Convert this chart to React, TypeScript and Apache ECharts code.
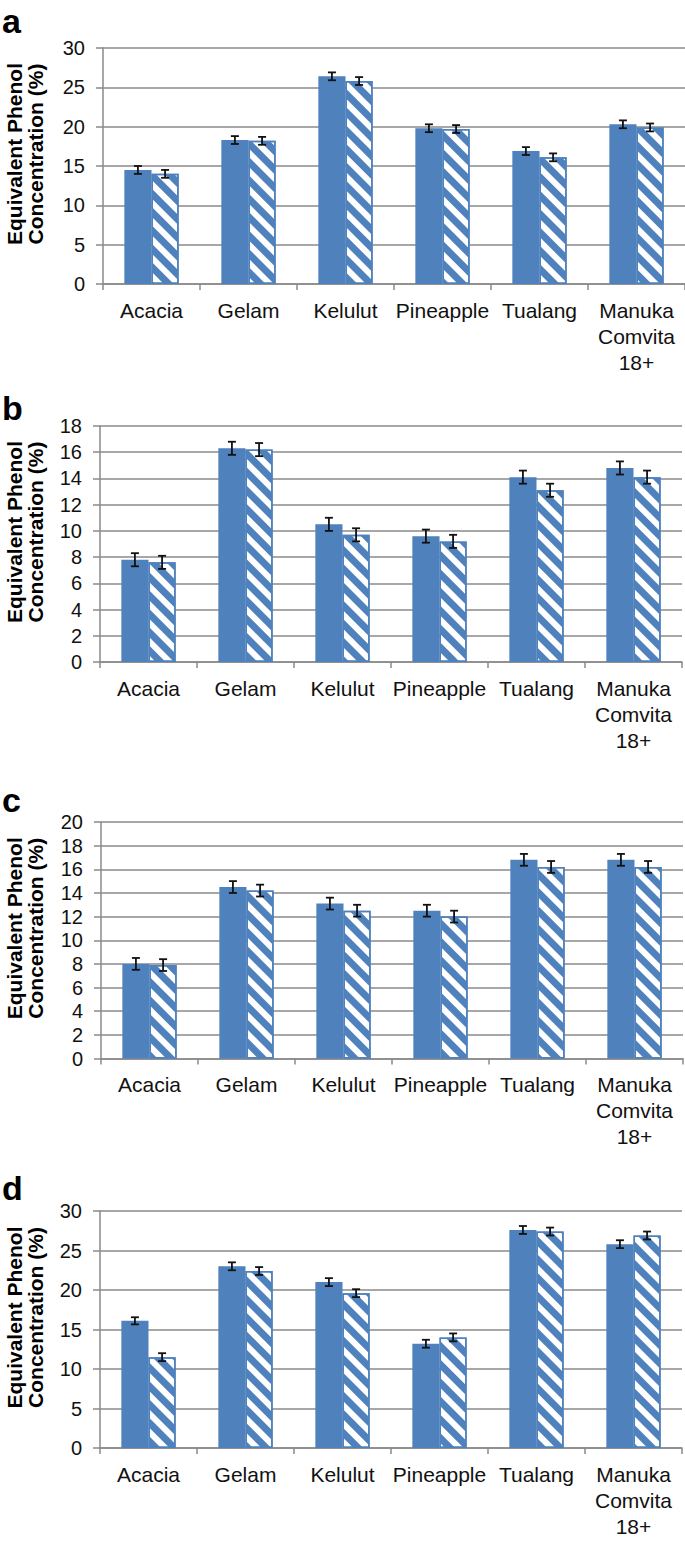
import React, { useEffect, useRef } from "react";
import * as echarts from "echarts";

// ---------- data ----------
const categories = ["Acacia", "Gelam", "Kelulut", "Pineapple", "Tualang", "Manuka\nComvita\n18+"];
const panelLetters = ["a", "b", "c", "d"];
const yMaxes = [30, 18, 20, 30];
const yIntervals = [5, 2, 2, 5];

const aSolid = [14.5, 18.3, 26.4, 19.8, 16.9, 20.3];
const aHatched = [14.0, 18.2, 25.8, 19.7, 16.1, 19.9];
const bSolid = [7.8, 16.3, 10.5, 9.6, 14.1, 14.8];
const bHatched = [7.6, 16.2, 9.7, 9.2, 13.1, 14.1];
const cSolid = [8.0, 14.5, 13.1, 12.5, 16.8, 16.8];
const cHatched = [7.9, 14.2, 12.5, 12.0, 16.2, 16.2];
const dSolid = [16.1, 23.0, 21.0, 13.2, 27.6, 25.8];
const dHatched = [11.5, 22.4, 19.6, 14.0, 27.4, 26.9];

const aSolidErr = [0.5, 0.5, 0.5, 0.5, 0.5, 0.5];
const aHatchedErr = [0.5, 0.5, 0.5, 0.5, 0.5, 0.5];
const bSolidErr = [0.5, 0.5, 0.5, 0.5, 0.5, 0.5];
const bHatchedErr = [0.5, 0.5, 0.5, 0.5, 0.5, 0.5];
const cSolidErr = [0.5, 0.5, 0.5, 0.5, 0.5, 0.5];
const cHatchedErr = [0.5, 0.5, 0.5, 0.5, 0.5, 0.5];
const dSolidErr = [0.45, 0.5, 0.5, 0.5, 0.5, 0.5];
const dHatchedErr = [0.5, 0.5, 0.5, 0.5, 0.5, 0.5];

const yTitle = "Equivalent Phenol\nConcentration (%)";

// ---------- layout / style ----------
const W = 685;
const H = 1541;
const gridLeft = [103, 100, 101, 100];
const gridTop = [48, 426, 822, 1211];
const gridHeight = [236, 236, 236.5, 237];
const gridWidth = 582;
const letterBaseline = [33, 420, 812, 1200];
const BLUE = "#4F81BD";
const GRID_GRAY = "#8a8a8a";
const FONT = "'Liberation Sans', Arial, Helvetica, sans-serif";

const solidData = [aSolid, bSolid, cSolid, dSolid];
const hatchedData = [aHatched, bHatched, cHatched, dHatched];
const solidErr = [aSolidErr, bSolidErr, cSolidErr, dSolidErr];
const hatchedErr = [aHatchedErr, bHatchedErr, cHatchedErr, dHatchedErr];

function errSeries(i: number, vals: number[], errs: number[], side: number) {
  return {
    type: "custom",
    xAxisIndex: i,
    yAxisIndex: i,
    z: 10,
    silent: true,
    encode: { x: 0, y: 1 },
    data: vals.map((v, k) => [k, v, errs[k]]),
    renderItem: (params: any, api: any) => {
      const idx = api.value(0);
      const v = api.value(1);
      const e = api.value(2);
      const cw = api.size([1, 0])[0];
      const top = api.coord([idx, v + e]);
      const bot = api.coord([idx, v - e]);
      const x = top[0] + side * cw * 0.14;
      const hw = 4;
      const st = { stroke: "#111", lineWidth: 1.8 };
      return {
        type: "group",
        children: [
          { type: "line", shape: { x1: x, y1: top[1], x2: x, y2: bot[1] }, style: st },
          { type: "line", shape: { x1: x - hw, y1: top[1], x2: x + hw, y2: top[1] }, style: st },
          { type: "line", shape: { x1: x - hw, y1: bot[1], x2: x + hw, y2: bot[1] }, style: st },
        ],
      };
    },
  };
}

function buildOption() {
  const grids: any[] = [];
  const xAxes: any[] = [];
  const yAxes: any[] = [];
  const series: any[] = [];
  const graphics: any[] = [];

  for (let i = 0; i < 4; i++) {
    grids.push({
      left: gridLeft[i],
      top: gridTop[i],
      width: gridWidth,
      height: gridHeight[i],
      containLabel: false,
      outerBoundsMode: "none",
    });
    xAxes.push({
      type: "category",
      gridIndex: i,
      data: categories,
      axisLine: { show: true, lineStyle: { color: GRID_GRAY, width: 1.5 } },
      axisTick: { show: true, length: 6, lineStyle: { color: GRID_GRAY, width: 1.5 } },
      axisLabel: {
        interval: 0,
        fontSize: 21,
        lineHeight: 26,
        color: "#111",
        fontFamily: FONT,
        margin: 13,
      },
      splitLine: { show: false },
    });
    yAxes.push({
      type: "value",
      gridIndex: i,
      min: 0,
      max: yMaxes[i],
      interval: yIntervals[i],
      axisLine: { show: true, lineStyle: { color: GRID_GRAY, width: 1.5 } },
      axisTick: { show: true, length: 7, lineStyle: { color: GRID_GRAY, width: 1.5 } },
      axisLabel: { fontSize: 20, color: "#111", fontFamily: FONT, margin: 18 },
      splitLine: { show: true, lineStyle: { color: GRID_GRAY, width: 1.5 } },
    });
    series.push({
      type: "bar",
      xAxisIndex: i,
      yAxisIndex: i,
      data: solidData[i],
      barWidth: "28%",
      barGap: "0%",
      itemStyle: { color: BLUE },
      silent: true,
    });
    series.push({
      type: "bar",
      xAxisIndex: i,
      yAxisIndex: i,
      data: hatchedData[i],
      barWidth: "28%",
      barGap: "0%",
      itemStyle: {
        color: "#ffffff",
        borderColor: BLUE,
        borderWidth: 1.5,
        decal: {
          symbol: "rect",
          symbolSize: 1,
          dashArrayX: [1, 0],
          dashArrayY: [7, 6],
          rotation: Math.PI / 4,
          color: BLUE,
        },
      },
      silent: true,
    });
    series.push(errSeries(i, solidData[i], solidErr[i], -1));
    series.push(errSeries(i, hatchedData[i], hatchedErr[i], 1));

    graphics.push({
      type: "text",
      x: 2,
      y: letterBaseline[i] - 0.35 * 34,
      style: {
        text: panelLetters[i],
        font: `bold 34px ${FONT}`,
        fill: "#000",
        align: "left",
        verticalAlign: "middle",
      },
    });
    graphics.push({
      type: "text",
      x: 25,
      y: gridTop[i] + gridHeight[i] / 2 - 12,
      rotation: Math.PI / 2,
      style: {
        text: yTitle,
        font: `bold 21px ${FONT}`,
        lineHeight: 21,
        fill: "#000",
        align: "center",
        verticalAlign: "middle",
      },
    });
  }

  return {
    animation: false,
    backgroundColor: "#ffffff",
    grid: grids,
    xAxis: xAxes,
    yAxis: yAxes,
    series,
    graphic: graphics,
  };
}

export default function App() {
  const ref = useRef<HTMLDivElement>(null);
  useEffect(() => {
    document.body.style.margin = "0";
    if (!ref.current) return;
    const chart = echarts.init(ref.current, undefined, { renderer: "svg", width: W, height: H });
    chart.setOption(buildOption() as any);
    return () => chart.dispose();
  }, []);
  return (
    <div
      ref={ref}
      style={{ position: "absolute", left: 0, top: 0, width: W, height: H, background: "#fff" }}
    />
  );
}
